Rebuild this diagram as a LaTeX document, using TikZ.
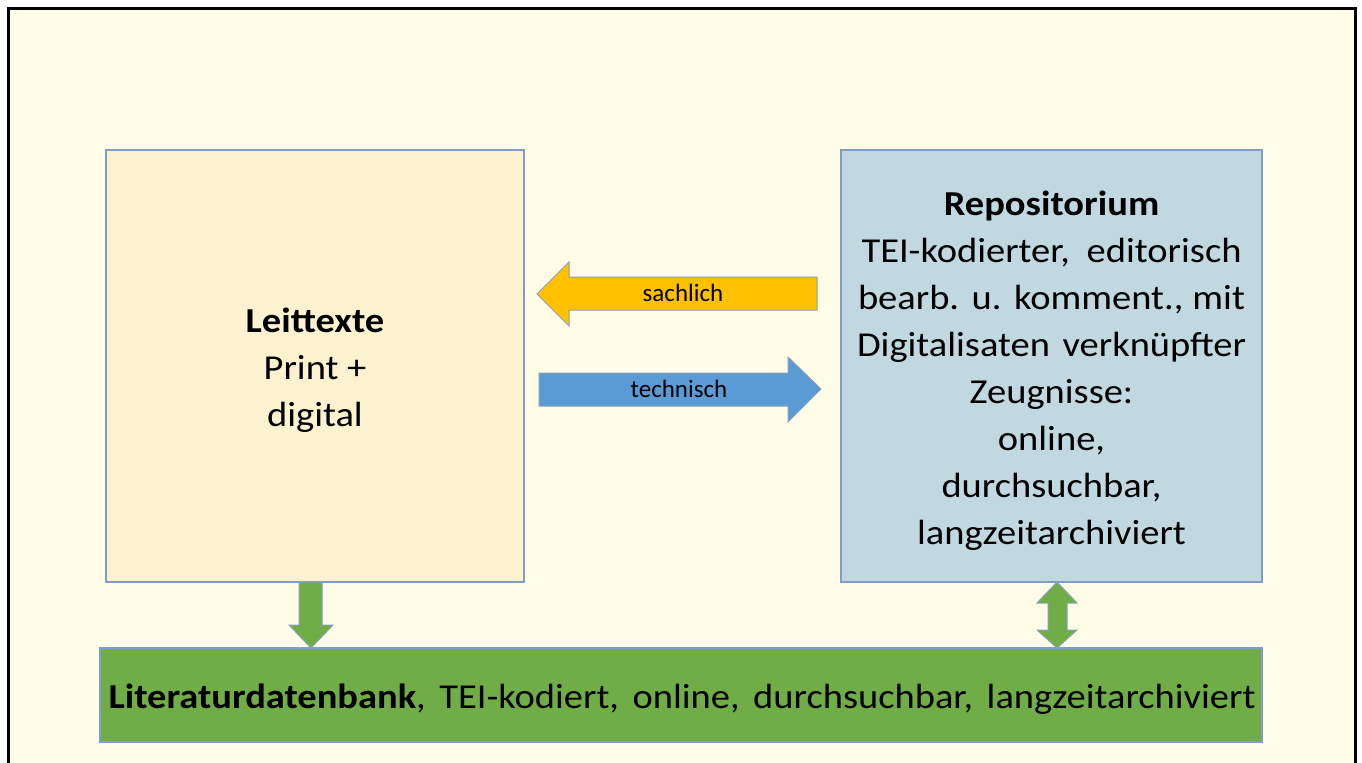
\documentclass[tikz,border=0pt]{standalone}
\usepackage{fontspec}
\setmainfont{Carlito}
\newfontfamily\widefont{Carlito}[FakeStretch=1.1]
\definecolor{bgpage}{HTML}{FFFDE8}
\definecolor{leftfill}{HTML}{FCF2CF}
\definecolor{rightfill}{HTML}{C2D8E0}
\definecolor{boxline}{HTML}{7F9DC6}
\definecolor{greenfill}{HTML}{70AD47}
\definecolor{yellowfill}{HTML}{FFC000}
\definecolor{bluefill}{HTML}{5B9BD5}
\definecolor{arrowline}{HTML}{8AA0B8}
\begin{document}
\begin{tikzpicture}[x=0.5pt,y=-0.5pt,
  box/.style={draw=boxline, line width=0.6pt, inner sep=0pt},
  boxtext/.style={inner sep=0pt, align=center,
    font=\widefont\fontsize{17.5}{23.5}\selectfont},
  blockarrow/.style={draw=arrowline, line width=0.5pt},
  arrowlabel/.style={inner sep=0pt, font=\fontsize{12.5}{15}\selectfont}]
\useasboundingbox (0,0) rectangle (1362,762);
\fill[white] (0,0) rectangle (1362,762);
\begin{scope}
  \clip (0,0) rectangle (1362,762);
  \filldraw[fill=bgpage, draw=black, line width=1.5pt] (8,8) rectangle (1355,790);
\end{scope}
% boxes
\node[box, fill=leftfill, minimum width=209pt, minimum height=216pt] (leit) at (315,366) {};
\node[boxtext] (leittext) at ([yshift=-2.2pt]leit.center)
  {\textbf{Leittexte}\\Print +\\digital};
\node[box, fill=rightfill, minimum width=210.5pt, minimum height=216pt] (repo) at (1051.5,366) {};
\node[boxtext] (repotext) at ([yshift=-2.4pt]repo.center)
  {\textbf{Repositorium}\\
   \makebox[190pt][s]{TEI-kodierter, editorisch}\\
   \makebox[193.5pt][s]{bearb. u. komment., mit}\\
   \makebox[194.5pt][s]{Digitalisaten verknüpfter}\\
   Zeugnisse:\\online,\\durchsuchbar,\\langzeitarchiviert};
\node[box, fill=greenfill, minimum width=581pt, minimum height=47pt] (lit) at (681,695) {};
\node[boxtext] (littext) at ([xshift=0.5pt,yshift=-2pt]lit.center)
  {\makebox[573.5pt][s]{\textbf{Literaturdatenbank}, TEI-kodiert, online, durchsuchbar, langzeitarchiviert}};
% block arrows
\filldraw[blockarrow, fill=yellowfill] (817,277) -- (569,277) -- (569,262) -- (537,294)
  -- (569,326) -- (569,310) -- (817,310) -- cycle;
\node[arrowlabel] (sachlich) at (683,293) {sachlich};
\filldraw[blockarrow, fill=bluefill] (539,373) -- (788,373) -- (788,357) -- (821,389)
  -- (788,422) -- (788,406) -- (539,406) -- cycle;
\node[arrowlabel] (technisch) at (679,389) {technisch};
\filldraw[blockarrow, fill=greenfill] (299,582) -- (322,582) -- (322,625) -- (333,625)
  -- (311,648) -- (289,625) -- (299,625) -- cycle;
\filldraw[blockarrow, fill=greenfill] (1057,582) -- (1077,603) -- (1067,603) -- (1067,630)
  -- (1077,630) -- (1057,648) -- (1037,630) -- (1048,630) -- (1048,603) -- (1037,603) -- cycle;
\end{tikzpicture}
\end{document}
